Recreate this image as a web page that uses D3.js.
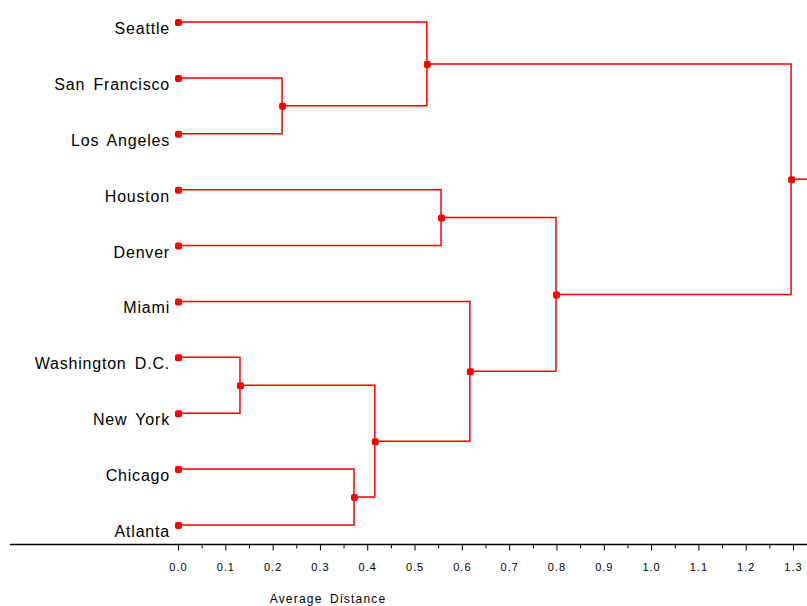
<!DOCTYPE html>
<html>
<head>
<meta charset="utf-8">
<script src="https://cdn.jsdelivr.net/npm/d3@7"></script>
<style>
  body { margin: 0; background: #fff; }
  svg { display: block; font-family: "Liberation Sans", Arial, sans-serif; }
</style>
</head>
<body>
<div id="chart"></div>
<script>
// Leaf order, top to bottom
const cities = ['Seattle', 'San Francisco', 'Los Angeles', 'Houston', 'Denver',
  'Miami', 'Washington D.C.', 'New York', 'Chicago', 'Atlanta'];

// Merge steps: [cluster id, child A, child B, average distance]
const merges = [
  ['c1', 'Washington D.C.', 'New York', 0.131],
  ['c2', 'San Francisco', 'Los Angeles', 0.22],
  ['c3', 'Chicago', 'Atlanta', 0.372],
  ['c4', 'c1', 'c3', 0.416],
  ['c5', 'Seattle', 'c2', 0.526],
  ['c6', 'Houston', 'Denver', 0.556],
  ['c7', 'Miami', 'c4', 0.617],
  ['c8', 'c6', 'c7', 0.799],
  ['c9', 'c5', 'c8', 1.296]
];

const tickValues = d3.range(0, 14).map(i => i / 10);
const minorTicks = d3.range(0, 14).map(i => i / 10 + 0.05);

const width = 807, height = 606;
const red = '#ff0000';

const svg = d3.select('#chart').append('svg')
  .attr('width', width)
  .attr('height', height);

// Scales
const x = d3.scaleLinear().domain([0, 1.3]).range([178, 793]);
const y = d3.scalePoint().domain(cities).range([22, 525]);

// Node positions
const nodes = {};
cities.forEach(c => { nodes[c] = { x: x(0), y: y(c) }; });
merges.forEach(([id, a, b, d]) => {
  nodes[id] = { x: x(d), y: (nodes[a].y + nodes[b].y) / 2 };
});

// Elbow links
const g = svg.append('g');
g.selectAll('path.link')
  .data(merges)
  .enter()
  .append('path')
  .attr('class', 'link')
  .attr('fill', 'none')
  .attr('stroke', red)
  .attr('stroke-width', 1.5)
  .attr('d', ([id, a, b]) => {
    const na = nodes[a], nb = nodes[b], n = nodes[id];
    return `M${na.x},${na.y}H${n.x}V${nb.y}H${nb.x}`;
  });

// Root stub going off to the right
const root = nodes[merges[merges.length - 1][0]];
g.append('line')
  .attr('x1', root.x).attr('x2', width)
  .attr('y1', root.y).attr('y2', root.y)
  .attr('stroke', red)
  .attr('stroke-width', 1.5);

// Markers on leaves and merge points
const markerData = Object.values(nodes);
g.selectAll('rect.node')
  .data(markerData)
  .enter()
  .append('rect')
  .attr('class', 'node')
  .attr('x', d => d.x - 3)
  .attr('y', d => d.y - 3)
  .attr('width', 7)
  .attr('height', 7)
  .attr('rx', 2)
  .attr('fill', red);

// Leaf labels
svg.selectAll('text.leaf')
  .data(cities)
  .enter()
  .append('text')
  .attr('class', 'leaf')
  .attr('x', 170)
  .attr('y', d => y(d) + 12)
  .attr('text-anchor', 'end')
  .style('font-size', '16px')
  .style('letter-spacing', '0.8px')
  .style('word-spacing', '3px')
  .style('fill', '#000')
  .text(d => d);

// Axis
const axisY = 544.5;
svg.append('line')
  .attr('x1', 10).attr('x2', width)
  .attr('y1', axisY).attr('y2', axisY)
  .attr('stroke', '#000')
  .attr('stroke-width', 1.5);

const majorAxis = svg.append('g')
  .attr('transform', `translate(0, ${axisY})`)
  .call(d3.axisBottom(x).tickValues(tickValues).tickSize(6).tickPadding(13)
    .tickFormat(d3.format('.1f')));
majorAxis.select('.domain').remove();
majorAxis.selectAll('.tick line').attr('stroke', '#000');
majorAxis.selectAll('.tick text')
  .style('font-family', '"Liberation Sans", Arial, sans-serif')
  .style('font-size', '11px')
  .style('letter-spacing', '1px')
  .style('fill', '#000');

const minorAxis = svg.append('g')
  .attr('transform', `translate(0, ${axisY})`)
  .call(d3.axisBottom(x).tickValues(minorTicks).tickSize(4).tickFormat(''));
minorAxis.select('.domain').remove();
minorAxis.selectAll('.tick line').attr('stroke', '#000');

// Axis title
svg.append('text')
  .attr('x', 328)
  .attr('y', 603)
  .attr('text-anchor', 'middle')
  .style('font-size', '12px')
  .style('letter-spacing', '1.2px')
  .style('word-spacing', '3px')
  .style('fill', '#000')
  .text('Average Distance');
</script>
</body>
</html>
